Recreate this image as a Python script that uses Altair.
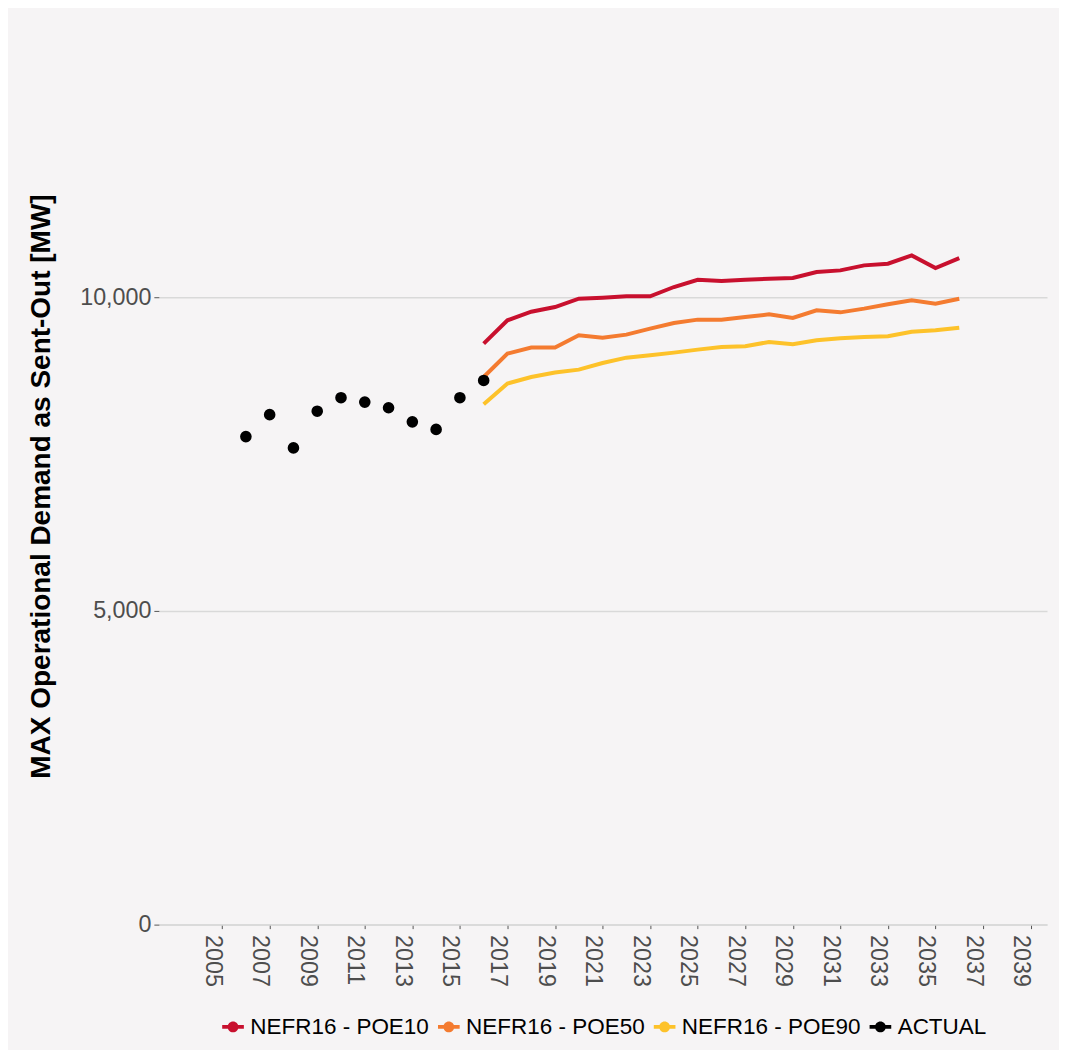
import altair as alt
import pandas as pd

# ---- data ----
actual_years = [2006, 2007, 2008, 2009, 2010, 2011, 2012, 2013, 2014, 2015, 2016]
actual_values = [7780, 8130, 7600, 8185, 8400, 8330, 8240, 8015, 7895, 8400, 8675]

forecast_years = [2016, 2017, 2018, 2019, 2020, 2021, 2022, 2023, 2024, 2025, 2026,
                  2027, 2028, 2029, 2030, 2031, 2032, 2033, 2034, 2035, 2036]
poe10 = [9263, 9634, 9772, 9846, 9979, 9995, 10016, 10016, 10165, 10281, 10260,
         10281, 10297, 10308, 10403, 10430, 10510, 10536, 10669, 10467, 10626]
poe50 = [8731, 9103, 9199, 9199, 9395, 9355, 9406, 9501, 9591, 9645, 9645,
         9687, 9729, 9671, 9793, 9761, 9820, 9889, 9952, 9899, 9979]
poe90 = [8296, 8626, 8731, 8801, 8848, 8954, 9039, 9076, 9119, 9167, 9209,
         9220, 9289, 9252, 9315, 9347, 9368, 9379, 9453, 9475, 9517]

series_names = ["NEFR16 - POE10", "NEFR16 - POE50", "NEFR16 - POE90", "ACTUAL"]
series_colors = ["#C8102E", "#F47B30", "#FDC22A", "#000000"]
x_ticks = list(range(2005, 2040, 2))
y_ticks = [0, 5000, 10000]

rows = []
for name, vals in zip(series_names[:3], [poe10, poe50, poe90]):
    for yr, v in zip(forecast_years, vals):
        rows.append({"year": yr, "value": v, "series": name})
lines_df = pd.DataFrame(rows)
points_df = pd.DataFrame({"year": actual_years, "value": actual_values,
                          "series": ["ACTUAL"] * len(actual_years)})

legend_symbol = ("M-1,-0.17H1V0.17H-1Z "
                 "M0.5,0A0.5,0.5 0 1,1 -0.5,0A0.5,0.5 0 1,1 0.5,0Z")

FONT = "Liberation Sans"

color_scale = alt.Scale(domain=series_names, range=series_colors)
legend = alt.Legend(
    title=None, orient="none", legendX=63, legendY=970, direction="horizontal",
    columns=4, symbolType=legend_symbol, symbolSize=470, symbolStrokeWidth=0,
    labelFontSize=22.5, labelFont=FONT, labelColor="#000000", labelOffset=6,
    columnPadding=8, labelLimit=400,
)

x_enc = alt.X(
    "year:Q",
    scale=alt.Scale(domain=[2002.34, 2039.69], nice=False, zero=False),
    axis=alt.Axis(
        values=x_ticks, format="d", title=None, grid=False,
        labelAngle=90, labelAlign="left", labelBaseline="middle",
        labelOffset=-10, labelPadding=6, labelFontSize=23.3, labelFont=FONT,
        labelColor="#4d4d4d", tickColor="#555555", tickSize=4, tickWidth=1,
        domainColor="#d9d9d9", domainWidth=1.5, labelFlush=False,
    ),
)
y_enc = alt.Y(
    "value:Q",
    scale=alt.Scale(domain=[0, 14000], nice=False),
    axis=alt.Axis(
        values=y_ticks, format=",d",
        title="MAX Operational Demand as Sent-Out [MW]",
        titleFont=FONT, titleFontSize=28, titleFontWeight="bold",
        titleColor="#000000", titleX=-117, titleY=440, titleAlign="center",
        titleBaseline="middle", titleAngle=-90,
        labelFontSize=23.3, labelFont=FONT, labelColor="#4d4d4d", labelPadding=3,
        tickColor="#555555", tickSize=5, tickWidth=1, domain=False,
        grid=True, gridColor="#d9d9d9", gridWidth=1.5,
    ),
)

lines = alt.Chart(lines_df).mark_line(strokeWidth=4).encode(
    x=x_enc, y=y_enc,
    color=alt.Color("series:N", scale=color_scale, legend=legend),
    detail="series:N",
)
points = alt.Chart(points_df).mark_point(filled=True, size=135, opacity=1).encode(
    x=x_enc, y=y_enc,
    color=alt.Color("series:N", scale=color_scale, legend=legend),
)

chart = alt.layer(lines, points).properties(
    width=889, height=879,
    autosize=alt.AutoSizeParams(type="none"),
    padding={"left": 151, "top": 38, "right": 12, "bottom": 125},
    background="#F6F4F5",
).configure_view(stroke=None, fill="#F6F4F5")

chart.save("out.html", embed_options={"renderer": "svg", "actions": False})
